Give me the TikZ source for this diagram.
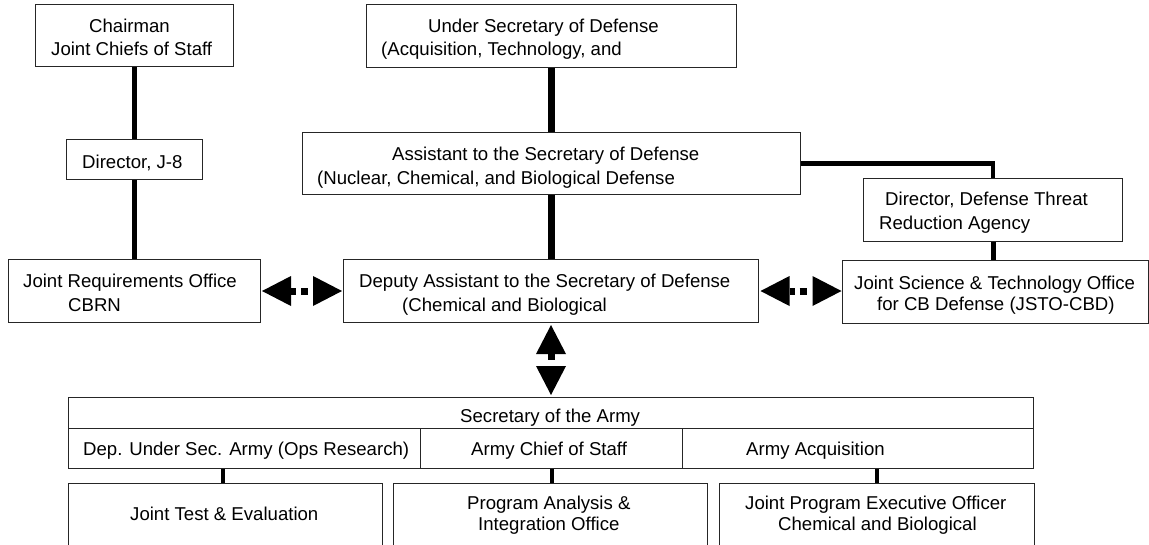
\documentclass[tikz,border=0pt]{standalone}
\usepackage{fontspec}
\setmainfont{Liberation Sans}
\usetikzlibrary{arrows.meta,calc}
\begin{document}
\begin{tikzpicture}[x=1pt,y=-1pt,
  box/.style={draw=black!85, line width=1pt, rectangle, inner sep=0pt, anchor=north west},
  txt/.style={anchor=base west, inner sep=0pt, font=\fontsize{18.6}{22}\selectfont},
  darr/.style={line width=7pt, dash pattern=on 5pt off 5pt on 7pt off 20pt, {Triangle[length=29pt,width=30pt,line width=0pt]}-{Triangle[length=29pt,width=30pt,line width=0pt]}},
  varr/.style={line width=7pt, dash pattern=on 6pt off 20pt, {Triangle[length=29pt,width=30pt,line width=0pt]}-{Triangle[length=29pt,width=30pt,line width=0pt]}}]
\useasboundingbox (0,0) rectangle (1149,544);

% boxes
\node[box, minimum width=198pt, minimum height=62pt] (chair) at (35,4) {};
\node[box, minimum width=136pt, minimum height=40pt] (j8) at (66,139) {};
\node[box, minimum width=252pt, minimum height=63pt] (jro) at (8,259) {};
\node[box, minimum width=370pt, minimum height=63pt] (usd) at (366,4) {};
\node[box, minimum width=498pt, minimum height=62pt] (asd) at (302,132) {};
\node[box, minimum width=415pt, minimum height=63pt] (dasd) at (343,259) {};
\node[box, minimum width=259pt, minimum height=63pt] (dtra) at (863,178) {};
\node[box, minimum width=305.5pt, minimum height=63pt] (jsto) at (842,260) {};
\node[box, minimum width=965pt, minimum height=31pt] (sec) at (68,397) {};
\node[box, minimum width=352pt, minimum height=40pt] (c1) at (68,428) {};
\node[box, minimum width=262pt, minimum height=40pt] (c2) at (420,428) {};
\node[box, minimum width=351pt, minimum height=40pt] (c3) at (682,428) {};
\node[box, minimum width=314pt, minimum height=80pt] (jte) at (68,483) {};
\node[box, minimum width=314pt, minimum height=80pt] (pai) at (393,483) {};
\node[box, minimum width=315pt, minimum height=80pt] (jpeo) at (719,483) {};

% texts
\node[txt] (t1a) at (89,32) {Chairman};
\node[txt] (t1b) at (51,55.5) {Joint Chiefs of Staff};
\node[txt] (t2) at (82,168) {Director, J-8};
\node[txt] (t3a) at (23,287.5) {Joint Requirements Office};
\node[txt] (t3b) at (68,311) {CBRN};
\node[txt] (t4a) at (428,32) {Under Secretary of Defense};
\node[txt] (t4b) at (381,55.5) {(Acquisition, Technology, and};
\node[txt] (t5a) at (392,160.5) {Assistant to the Secretary of Defense};
\node[txt] (t5b) at (317,184) {(Nuclear, Chemical, and Biological Defense};
\node[txt] (t6a) at (359,287.5) {Deputy Assistant to the Secretary of Defense};
\node[txt] (t6b) at (402,311) {(Chemical and Biological};
\node[txt] (t7a) at (885,205.5) {Director, Defense Threat};
\node[txt] (t7b) at (879,229.5) {Reduction Agency};
\node[txt] (t8a) at (854,289) {Joint Science \& Technology Office};
\node[txt] (t8b) at (877,310.5) {for CB Defense (JSTO-CBD)};
\node[txt] (t9) at (460,422) {Secretary of the Army};
\node[txt] (t10) at (83,455.5) {Dep. Under Sec. Army (Ops Research)};
\node[txt] (t11) at (471,455.5) {Army Chief of Staff};
\node[txt] (t12) at (746,455.5) {Army Acquisition};
\node[txt] (t13) at (130,520.5) {Joint Test \& Evaluation};
\node[txt] (t14a) at (467,509) {Program Analysis \&};
\node[txt] (t14b) at (478,530) {Integration Office};
\node[txt] (t15a) at (745,509) {Joint Program Executive Officer};
\node[txt] (t15b) at (778,530) {Chemical and Biological};

% connectors
\draw[line width=5pt] (chair.south) -- (j8.north);
\draw[line width=5pt] (j8.south) -- (jro.north);
\draw[line width=7pt] (usd.south) -- (asd.north);
\draw[line width=7pt] (asd.south) -- (asd.south |- dasd.north);
\draw[line width=4.3pt] (asd.east) -| (dtra.north);
\draw[line width=5pt] (dtra.south) -- (dtra.south |- jsto.north);
\draw[line width=4pt] ([xshift=-3pt]jte.north |- c1.south) -- ([xshift=-3pt]jte.north);
\draw[line width=4pt] (c2.south) -- (c2.south |- pai.north);
\draw[line width=4pt] (jpeo.north |- c3.south) -- (jpeo.north);

% double arrows
\draw[darr, shorten <=1pt, shorten >=1pt] (jro.east) -- (dasd.west);
\draw[darr, shorten <=1.5pt, shorten >=0.5pt] (dasd.east) -- (dasd.east -| jsto.west);
\draw[varr, shorten <=2pt, shorten >=2pt] (dasd.south) -- (dasd.south |- sec.north);
\end{tikzpicture}
\end{document}
